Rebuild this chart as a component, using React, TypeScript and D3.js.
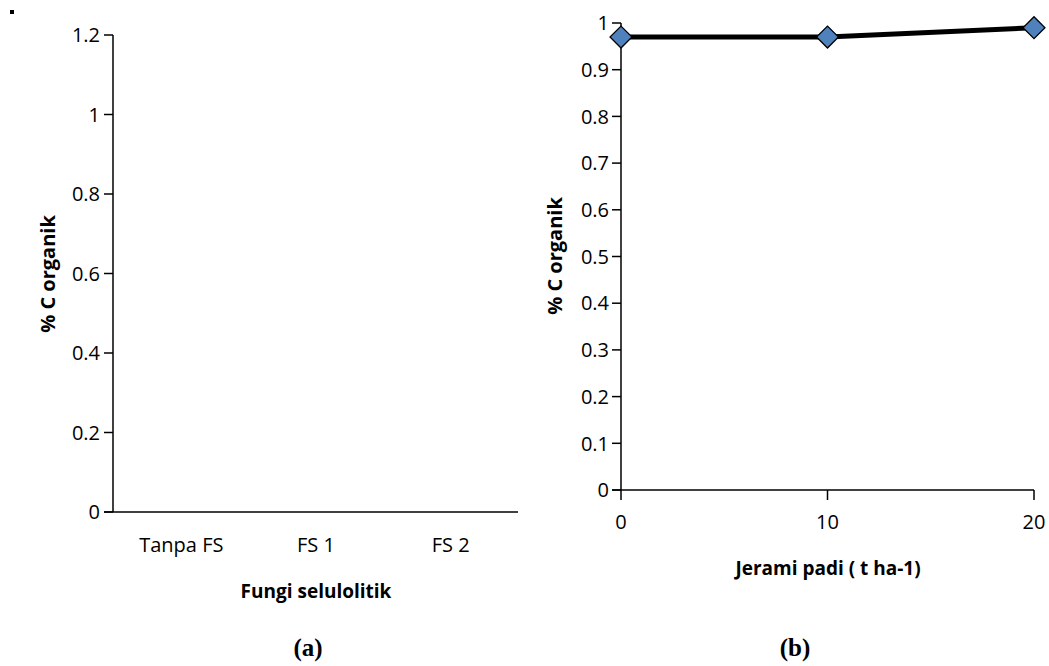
import React from "react";
import * as d3 from "d3";

const categoriesA = ["Tanpa FS", "FS 1", "FS 2"];
const yTicksA = [0, 0.2, 0.4, 0.6, 0.8, 1, 1.2];

const strawX = [0, 10, 20];
const carbonY = [0.97, 0.97, 0.99];
const yTicksB = [0, 0.1, 0.2, 0.3, 0.4, 0.5, 0.6, 0.7, 0.8, 0.9, 1];
const xTicksB = [0, 10, 20];

const FONT = "'Open Sans', sans-serif";

export default function App() {
  // Panel A
  const xA = d3.scaleBand<string>().domain(categoriesA).range([114, 518]);
  const yA = d3.scaleLinear().domain([0, 1.2]).range([512, 35]);
  // Panel B
  const xB = d3.scaleLinear().domain([0, 20]).range([621, 1034]);
  const yB = d3.scaleLinear().domain([0, 1]).range([490, 23]);
  const line = d3
    .line<number>()
    .x((_, i) => xB(strawX[i]))
    .y((d) => yB(d));
  const diamond = d3.symbol().type(d3.symbolSquare).size(240)();

  return (
    <svg
      width={1049}
      height={666}
      style={{ position: "absolute", left: 0, top: 0, background: "#fff" }}
      fontFamily={FONT}
    >
      <rect x={10} y={10} width={4} height={4} fill="#000" />
      {/* Panel A */}
      <g>
        <line x1={113} x2={113} y1={yA(1.2)} y2={yA(0)} stroke="#000" strokeWidth={1.5} />
        <line x1={104} x2={518} y1={yA(0)} y2={yA(0)} stroke="#000" strokeWidth={1.5} />
        {yTicksA.map((t) => (
          <g key={t}>
            <line x1={104} x2={113} y1={yA(t)} y2={yA(t)} stroke="#000" strokeWidth={1.5} />
            <text x={100} y={yA(t)} dy="0.36em" textAnchor="end" fontSize={20} fill="#000">
              {String(t)}
            </text>
          </g>
        ))}
        {categoriesA.map((c) => (
          <text
            key={c}
            x={(xA(c) as number) + xA.bandwidth() / 2}
            y={552}
            textAnchor="middle"
            fontSize={20}
            fill="#000"
          >
            {c}
          </text>
        ))}
        <text x={316} y={598} textAnchor="middle" fontSize={19} fontWeight="bold" fill="#000">
          Fungi selulolitik
        </text>
        <text
          transform="translate(55,274) rotate(-90)"
          textAnchor="middle"
          fontSize={20}
          fontWeight="bold"
          fill="#000"
        >
          % C organik
        </text>
      </g>
      {/* Panel B */}
      <g>
        <line x1={621} x2={621} y1={yB(1)} y2={yB(0)} stroke="#000" strokeWidth={1.5} />
        <line x1={612} x2={1034} y1={yB(0)} y2={yB(0)} stroke="#000" strokeWidth={1.5} />
        {yTicksB.map((t) => (
          <g key={t}>
            <line x1={612} x2={621} y1={yB(t)} y2={yB(t)} stroke="#000" strokeWidth={1.5} />
            <text x={609} y={yB(t)} dy="0.36em" textAnchor="end" fontSize={20} fill="#000">
              {String(t)}
            </text>
          </g>
        ))}
        {xTicksB.map((t) => (
          <g key={t}>
            <line x1={xB(t)} x2={xB(t)} y1={yB(0)} y2={yB(0) + 10} stroke="#000" strokeWidth={1.5} />
            <text x={xB(t)} y={529} textAnchor="middle" fontSize={20} fill="#000">
              {String(t)}
            </text>
          </g>
        ))}
        <path d={line(carbonY) || ""} fill="none" stroke="#000" strokeWidth={5} />
        {carbonY.map((v, i) => (
          <path
            key={i}
            d={diamond || ""}
            transform={`translate(${xB(strawX[i])},${yB(v)}) rotate(45)`}
            fill="#4F81BD"
            stroke="#000"
            strokeWidth={1.3}
          />
        ))}
        <text x={828} y={575} textAnchor="middle" fontSize={19} fontWeight="bold" fill="#000">
          Jerami padi ( t ha-1)
        </text>
        <text
          transform="translate(562,256) rotate(-90)"
          textAnchor="middle"
          fontSize={20}
          fontWeight="bold"
          fill="#000"
        >
          % C organik
        </text>
      </g>
      <text x={308} y={656} textAnchor="middle" fontSize={25} fontWeight="bold" fontFamily="'Liberation Serif', serif" fill="#000">
        (a)
      </text>
      <text x={795} y={656} textAnchor="middle" fontSize={25} fontWeight="bold" fontFamily="'Liberation Serif', serif" fill="#000">
        (b)
      </text>
    </svg>
  );
}
